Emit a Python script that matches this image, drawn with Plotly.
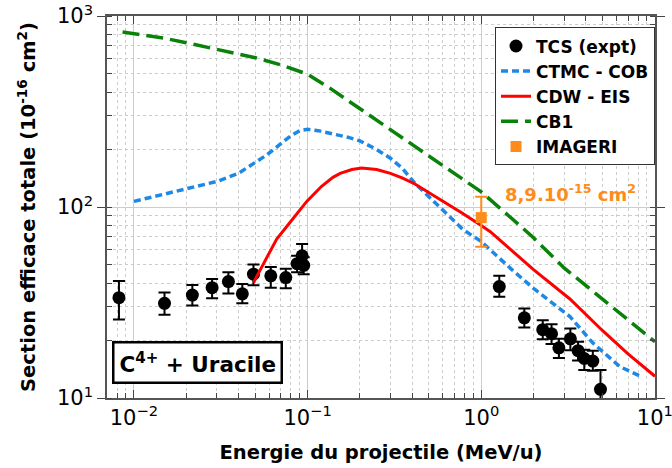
import plotly.graph_objects as go

# Experimental total cross sections (TCS)
tcs_x = [0.0082, 0.0150, 0.0217, 0.0282, 0.0350, 0.0421, 0.0488, 0.0614, 0.0749,
         0.0870, 0.0930, 0.0950, 1.27, 1.77, 2.26, 2.54, 2.80, 3.26, 3.61, 3.92,
         4.39, 4.86]
tcs_y = [33.5, 31.3, 34.6, 37.8, 40.7, 35.1, 44.5, 43.6, 42.7,
         50.5, 55.5, 49.5, 38.3, 26.3, 22.8, 21.7, 18.3, 20.4, 17.7, 16.1,
         15.6, 11.1]
tcs_err_plus = [7.5, 4.4, 4.4, 4.2, 4.8, 4.4, 5.5, 4.9, 4.8,
                5.0, 8.5, 5.0, 5.3, 3.1, 2.7, 2.6, 2.1, 2.7, 2.0, 1.8,
                2.1, 2.9]
tcs_err_minus = [7.7, 4.0, 4.1, 4.5, 5.4, 3.8, 5.6, 5.8, 5.2,
                 5.0, 5.0, 5.0, 4.4, 2.9, 2.5, 2.5, 2.1, 2.6, 2.0, 2.1,
                 1.7, 3.0]

# CTMC - COB
ctmc_x = [0.01, 0.015, 0.02, 0.03, 0.04, 0.05, 0.058, 0.065, 0.072, 0.08, 0.09, 0.1,
          0.115, 0.135, 0.17, 0.2, 0.25, 0.3, 0.35, 0.415, 0.508, 0.65, 0.787, 1.0,
          1.5, 2.0, 3.24, 4.37, 6.28, 8.4]
ctmc_y = [107, 117, 125, 136, 150, 170, 187, 203, 220, 236, 251, 255,
          251, 243, 232, 222, 200, 180, 160, 133, 112, 90, 76, 66,
          47, 37.5, 26.7, 19.5, 14.6, 12.9]

# CDW - EIS
cdw_x = [0.0488, 0.055, 0.0664, 0.08, 0.09, 0.0989, 0.12, 0.14, 0.154, 0.18, 0.205,
         0.25, 0.3, 0.35, 0.415, 0.508, 0.65, 0.775, 1.0, 1.127, 2.0, 3.24, 5.0,
         7.0, 10.0]
cdw_y = [40.2, 49, 68, 84, 96, 107, 128, 143, 150, 157, 160,
         157, 150, 142, 132, 118, 103, 93, 80, 74.3, 47, 33, 22.5,
         17.0, 13.0]

# CB1
cb1_x = [0.0086, 0.01, 0.015, 0.02, 0.03, 0.05, 0.07, 0.1, 0.135, 0.2, 0.3, 0.5,
         0.7, 1.0, 1.5, 2.0, 3.0, 5.0, 7.0, 10.0]
cb1_y = [825, 810, 765, 725, 670, 605, 555, 496, 418, 328, 254, 185,
         150, 120, 87, 69, 48, 33, 25.5, 19.7]

# IMAGERI point
imageri_x = [1.0]
imageri_y = [88]
imageri_err_plus = [25]
imageri_err_minus = [26]

# Tick labels (decades)
x_decades = [-2, -1, 0, 1]
y_decades = [1, 2, 3]

blue = "rgb(30, 136, 229)"
red = "rgb(255, 0, 0)"
green = "rgb(10, 130, 10)"
orange = "rgb(255, 140, 26)"


def power_label(e):
    return "10<sup>" + ("\u2212" + str(-e) if e < 0 else str(e)) + "</sup>"


fig = go.Figure()

fig.add_trace(go.Scatter(
    x=tcs_x, y=tcs_y, mode="markers", name="TCS (expt)", showlegend=False,
    marker=dict(color="black", size=13),
    error_y=dict(type="data", symmetric=False, array=tcs_err_plus,
                 arrayminus=tcs_err_minus, color="black", thickness=2, width=6),
))
fig.add_trace(go.Scatter(
    x=[None], y=[None], mode="markers", name="TCS (expt)",
    marker=dict(color="black", size=13),
))
fig.add_trace(go.Scatter(
    x=ctmc_x, y=ctmc_y, mode="lines", name="CTMC - COB",
    line=dict(color=blue, width=3.5, dash="7px,4px"),
))
fig.add_trace(go.Scatter(
    x=cdw_x, y=cdw_y, mode="lines", name="CDW - EIS",
    line=dict(color=red, width=3),
))
fig.add_trace(go.Scatter(
    x=cb1_x, y=cb1_y, mode="lines", name="CB1",
    line=dict(color=green, width=3.5, dash="17px,7px"),
))
fig.add_trace(go.Scatter(
    x=imageri_x, y=imageri_y, mode="markers", name="IMAGERI", showlegend=False,
    marker=dict(color=orange, size=11, symbol="square"),
    error_y=dict(type="data", symmetric=False, array=imageri_err_plus,
                 arrayminus=imageri_err_minus, color=orange, thickness=2, width=6),
))
fig.add_trace(go.Scatter(
    x=[None], y=[None], mode="markers", name="IMAGERI",
    marker=dict(color=orange, size=11, symbol="square"),
))

axis_common = dict(
    type="log", automargin=False,
    showline=True, linecolor="#555555", linewidth=1.5, mirror="allticks",
    showgrid=True, gridcolor="#cccccc", gridwidth=1,
    zeroline=False,
    tickmode="array", ticklabeloverflow="allow",
    ticklen=8, tickcolor="#444444", tickwidth=1.2,
    tickfont=dict(family="DejaVu Sans", size=21, color="black"),
    minor=dict(dtick="D1", ticks="inside", ticklen=5, tickcolor="#444444",
               showgrid=True, gridcolor="#cccccc", griddash="dot", gridwidth=1),
)

fig.update_layout(
    width=672, height=468,
    margin=dict(l=107, r=17, t=16, b=70),
    paper_bgcolor="white", plot_bgcolor="white",
    font=dict(family="DejaVu Sans", color="black"),
    showlegend=True,
    legend=dict(
        x=1, y=0.97, xanchor="right", yanchor="top",
        bgcolor="white", bordercolor="#333333", borderwidth=1,
        font=dict(family="DejaVu Sans", size=17, color="black", weight="bold"),
        tracegroupgap=0, itemwidth=30,
    ),
)

fig.update_xaxes(
    **axis_common,
    range=[-2.155, 1.0005],
    tickvals=[10 ** e for e in x_decades],
    ticktext=[power_label(e) for e in x_decades],
    ticks="inside",
    title=dict(text="Energie du projectile (MeV/u)", standoff=16,
               font=dict(family="DejaVu Sans", size=19.5, color="black", weight="bold")),
)
fig.update_yaxes(
    **axis_common,
    range=[1, 3],
    tickvals=[10 ** e for e in y_decades],
    ticktext=[power_label(e) for e in y_decades],
    ticks="outside",
    title=dict(text="Section efficace totale (10<sup>-16</sup> cm<sup>2</sup>)", standoff=16,
               font=dict(family="DejaVu Sans", size=19.5, color="black", weight="bold")),
)

# IMAGERI value label (log axes: positions in log10 units)
fig.add_annotation(
    x=0.124, y=2.073, xref="x", yref="y", xanchor="left", yanchor="middle",
    text="8,9.10<sup>-15</sup> cm<sup>2</sup>", showarrow=False,
    font=dict(family="DejaVu Sans", size=18, color=orange, weight="bold"),
)

fig.add_annotation(
    x=0.009, y=0.037, xref="paper", yref="paper", xanchor="left", yanchor="bottom",
    text="C<sup>4+</sup> + Uracile", showarrow=False,
    bgcolor="white", bordercolor="black", borderwidth=2.5, borderpad=5,
    font=dict(family="DejaVu Sans", size=21.5, color="black", weight="bold"),
)

# page body has a default margin; drop it so the figure fills the window
fig.write_html("out.html", config={"displayModeBar": False},
               post_script="document.body.style.margin='0';")
